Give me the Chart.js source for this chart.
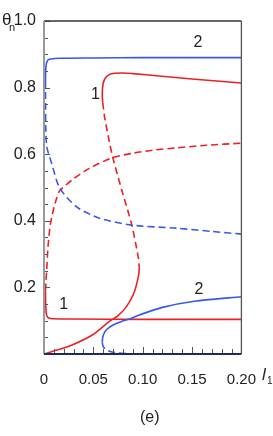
<!DOCTYPE html>
<html>
<head>
<meta charset="utf-8">
<style>
    html, body { margin: 0; padding: 0; background: #fff; }
    #wrap { position: relative; width: 273px; height: 436px; }
    canvas { display: block; }
    .lbl { position: absolute; font-family: "Liberation Sans Narrow", "Liberation Sans", Arial, sans-serif; color: #222; line-height: 1; }
</style>
<script src="https://cdn.jsdelivr.net/npm/chart.js@4/dist/chart.umd.min.js"></script>
</head>
<body>
<div id="wrap">
    <canvas id="chart" width="273" height="436"></canvas>
    <span class="lbl" style="left:2px;top:11px;font-size:17px;">θ</span>
    <span class="lbl" style="left:9px;top:22px;font-size:11px;">n</span>
    <span class="lbl" style="left:262px;top:366px;font-size:17px;font-style:italic;">l</span>
    <span class="lbl" style="left:267px;top:376px;font-size:10px;">1</span>
    <span class="lbl" style="left:140px;top:409px;font-size:16px;">(e)</span>
</div>
<script>
// curve 2, upper branch
const blueTopSolidX = [0.0015, 0.0017, 0.0022, 0.003, 0.0045, 0.007, 0.015, 0.05, 0.1, 0.2];
const blueTopSolidY = [0.82, 0.85, 0.868, 0.878, 0.884, 0.886, 0.888, 0.889, 0.89, 0.89];
const blueTopDashX = [0.0015, 0.0016, 0.0018, 0.003, 0.0077, 0.016, 0.033, 0.056, 0.089, 0.134, 0.17, 0.2];
const blueTopDashY = [0.82, 0.74, 0.673, 0.62, 0.573, 0.498, 0.442, 0.408, 0.387, 0.378, 0.368, 0.36];

// curve 2, lower branch
const blueLowSolidX = [0.059, 0.0595, 0.061, 0.064, 0.07, 0.078, 0.0864, 0.0965, 0.12, 0.154, 0.2];
const blueLowSolidY = [0.035, 0.05, 0.063, 0.075, 0.087, 0.097, 0.105, 0.117, 0.14, 0.159, 0.172];
const blueLowDashX = [0.059, 0.06, 0.063, 0.068, 0.075, 0.084, 0.094];
const blueLowDashY = [0.035, 0.022, 0.013, 0.007, 0.003, 0.001, 0.0];

// curve 1, left branch
const redLowSolidX = [0.2, 0.1, 0.03, 0.009, 0.005, 0.0032, 0.0022, 0.0017, 0.0015];
const redLowSolidY = [0.104, 0.104, 0.105, 0.106, 0.108, 0.112, 0.125, 0.15, 0.19];
const redLowDashX = [0.0015, 0.002, 0.0027, 0.004, 0.006, 0.0085, 0.012, 0.016, 0.03, 0.045, 0.0697, 0.09, 0.11, 0.134, 0.165, 0.2];
const redLowDashY = [0.19, 0.22, 0.25, 0.32, 0.38, 0.42, 0.46, 0.49, 0.526, 0.556, 0.59, 0.603, 0.612, 0.619, 0.627, 0.633];

// curve 1, S-shaped branch
const redTopSolidX = [0.2, 0.15, 0.117, 0.09, 0.08, 0.072, 0.066, 0.062, 0.0598, 0.059, 0.0595];
const redTopSolidY = [0.814, 0.826, 0.835, 0.842, 0.844, 0.843, 0.839, 0.828, 0.81, 0.78, 0.755];
const redMidDashX = [0.0595, 0.0615, 0.065, 0.0697, 0.079, 0.0885, 0.093, 0.0955, 0.0965];
const redMidDashY = [0.755, 0.71, 0.655, 0.59, 0.49, 0.393, 0.33, 0.29, 0.26];
const redBotSolidX = [0.0965, 0.096, 0.093, 0.09, 0.083, 0.075, 0.066, 0.049, 0.026, 0.012, 0];
const redBotSolidY = [0.26, 0.24, 0.2, 0.175, 0.14, 0.115, 0.097, 0.057, 0.024, 0.011, 0];

const curveLabelText = ['1', '1', '2', '2'];
const curveLabelX = [0.052, 0.02, 0.156, 0.157];
const curveLabelY = [0.778, 0.147, 0.934, 0.192];

const RED = '#ee2025';
const BLUE = '#3558ee';
const FONT = '"Liberation Sans Narrow", "Liberation Sans", Arial, sans-serif';

function branch(xs, ys, color, dashed) {
    return {
        data: xs.map((x, i) => ({ x: x, y: ys[i] })),
        borderColor: color,
        borderWidth: 1.6,
        borderDash: dashed ? [7, 4] : [],
        pointRadius: 0,
        tension: 0.25,
        fill: false
    };
}

const frame = {
    id: 'frame',
    afterDatasetsDraw(chart) {
        const { ctx, chartArea: a, scales } = chart;
        ctx.save();
        // inward ticks
        ctx.strokeStyle = '#555';
        ctx.lineWidth = 1;
        scales.x.ticks.forEach(t => {
            const px = Math.round(scales.x.getPixelForValue(t.value)) + 0.5;
            const len = Math.round(t.value * 100) % 5 === 0 ? 7 : 5;
            ctx.beginPath();
            ctx.moveTo(px, a.bottom);
            ctx.lineTo(px, a.bottom - len);
            ctx.stroke();
        });
        scales.y.ticks.forEach(t => {
            const py = Math.round(scales.y.getPixelForValue(t.value)) + 0.5;
            const len = Math.round(t.value * 100) % 20 === 0 ? 6 : 4;
            ctx.beginPath();
            ctx.moveTo(a.left, py);
            ctx.lineTo(a.left + len, py);
            ctx.stroke();
        });
        // frame
        ctx.lineWidth = 1.3;
        ctx.strokeStyle = '#333';
        ctx.beginPath();
        ctx.moveTo(a.left, a.top);
        ctx.lineTo(a.right, a.top);
        ctx.stroke();
        ctx.strokeStyle = '#555';
        ctx.beginPath();
        ctx.moveTo(a.right, a.top);
        ctx.lineTo(a.right, a.bottom);
        ctx.stroke();
        ctx.lineWidth = 2;
        ctx.strokeStyle = '#999';
        ctx.beginPath();
        ctx.moveTo(a.left, a.top);
        ctx.lineTo(a.left, a.bottom);
        ctx.stroke();
        ctx.strokeStyle = '#1c2a5c';
        ctx.beginPath();
        ctx.moveTo(a.left, a.bottom);
        ctx.lineTo(a.right, a.bottom);
        ctx.stroke();
        // curve numbers
        ctx.fillStyle = '#222';
        ctx.font = '16px ' + FONT;
        ctx.textAlign = 'center';
        ctx.textBaseline = 'middle';
        curveLabelText.forEach((txt, i) => {
            ctx.fillText(txt, scales.x.getPixelForValue(curveLabelX[i]), scales.y.getPixelForValue(curveLabelY[i]));
        });
        ctx.restore();
    }
};

new Chart(document.getElementById('chart'), {
    type: 'line',
    data: {
        datasets: [
            branch(blueTopSolidX, blueTopSolidY, BLUE, false),
            branch(blueTopDashX, blueTopDashY, BLUE, true),
            branch(blueLowSolidX, blueLowSolidY, BLUE, false),
            branch(blueLowDashX, blueLowDashY, BLUE, true),
            branch(redLowSolidX, redLowSolidY, RED, false),
            branch(redLowDashX, redLowDashY, RED, true),
            branch(redTopSolidX, redTopSolidY, RED, false),
            branch(redMidDashX, redMidDashY, RED, true),
            branch(redBotSolidX, redBotSolidY, RED, false)
        ]
    },
    options: {
        responsive: false,
        animation: false,
        devicePixelRatio: 1,
        layout: { padding: { top: 21, right: 30, left: 0, bottom: 0 } },
        plugins: { legend: { display: false }, tooltip: { enabled: false } },
        scales: {
            x: {
                type: 'linear',
                min: 0,
                max: 0.2,
                afterFit: s => { s.height = 82; },
                grid: { display: false, drawTicks: false },
                border: { display: false },
                ticks: {
                    stepSize: 0.01,
                    autoSkip: false,
                    maxRotation: 0,
                    padding: 17,
                    color: '#222',
                    font: { family: FONT, size: 15 },
                    callback: v => {
                        const k = Math.round(v * 100);
                        if (k % 5 !== 0) return '';
                        return k === 0 ? '0' : (k / 100).toFixed(2);
                    }
                }
            },
            y: {
                type: 'linear',
                min: 0,
                max: 1,
                afterFit: s => { s.width = 44; },
                grid: { display: false, drawTicks: false },
                border: { display: false },
                ticks: {
                    stepSize: 0.05,
                    autoSkip: false,
                    padding: 8,
                    color: '#222',
                    font: { family: FONT, size: 16 },
                    callback: v => {
                        const k = Math.round(v * 100);
                        if (k === 0 || k % 20 !== 0) return '';
                        return (k / 100).toFixed(1);
                    }
                }
            }
        }
    },
    plugins: [frame]
});
</script>
</body>
</html>
